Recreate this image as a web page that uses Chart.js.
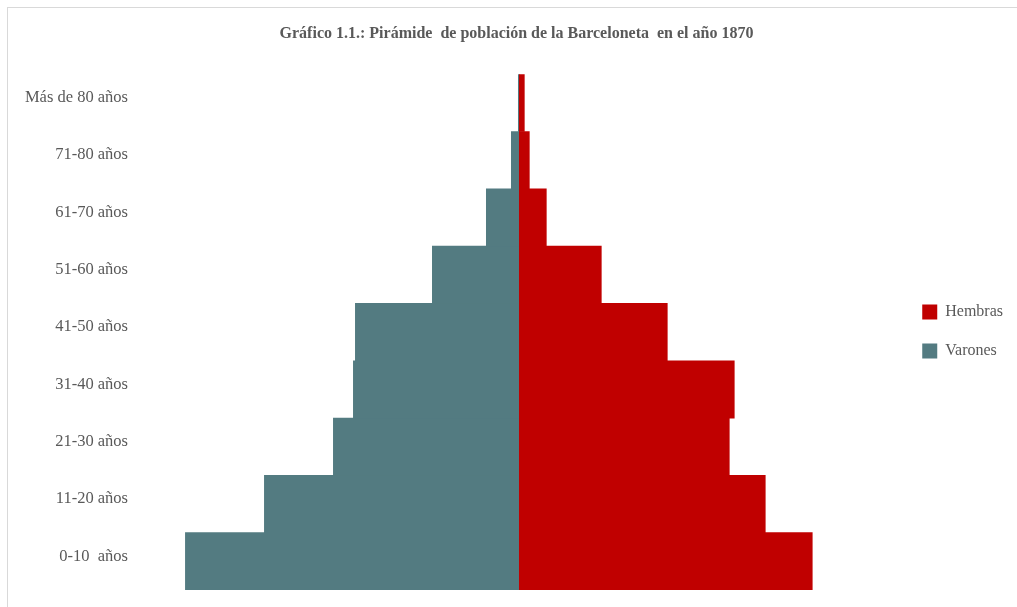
<!DOCTYPE html>
<html>
<head>
<meta charset="utf-8">
<script src="https://cdn.jsdelivr.net/npm/chart.js@4.4.1/dist/chart.umd.min.js"></script>
<style>
  html, body { margin: 0; padding: 0; background: #ffffff; overflow: hidden; width: 1017px; height: 607px; }
  #frame { position: absolute; left: 7px; top: 7px; width: 1018px; height: 600px;
           border-left: 1px solid #d9d9d9; border-top: 1px solid #d9d9d9; box-sizing: border-box; }
  #wrap { position: absolute; left: 0; top: 0; width: 1017px; height: 599px; }
</style>
</head>
<body>
<div id="frame"><div id="wrap"><canvas id="c"></canvas></div></div>
<script>
// Age groups, bottom to top
const categories = ['0-10  años', '11-20 años', '21-30 años', '31-40 años', '41-50 años',
                    '51-60 años', '61-70 años', '71-80 años', 'Más de 80 años'];
// Estimated values
const varones = [1670, 1275, 930, 830, 820, 435, 165, 40, 5];
const hembras = [1465, 1230, 1050, 1075, 740, 410, 135, 50, 25];
const titleText = 'Gráfico 1.1.: Pirámide  de población de la Barceloneta  en el año 1870';

const FONT = '"Liberation Serif", "DejaVu Serif", serif';
const GREY = '#595959';

new Chart(document.getElementById('c'), {
  type: 'bar',
  data: {
    // second empty line lifts each label slightly above the bar centre, as in the original
    labels: categories.map(c => [c, '']),
    datasets: [
      { label: 'Hembras', data: hembras, backgroundColor: '#c00000', borderWidth: 0 },
      { label: 'Varones', data: varones.map(v => -v), backgroundColor: '#537b81', borderWidth: 0 }
    ]
  },
  options: {
    indexAxis: 'y',
    responsive: true,
    maintainAspectRatio: false,
    animation: false,
    datasets: { bar: { barPercentage: 1.0, categoryPercentage: 1.0 } },
    layout: { padding: { top: 0, right: 12, bottom: 0, left: 12 } },
    scales: {
      x: {
        stacked: true,
        min: -1892,
        max: 1900,
        ticks: { display: false, stepSize: 500 },
        border: { display: false },
        grid: {
          drawTicks: false,
          lineWidth: 2,
          color: ctx => (ctx.tick && ctx.tick.value === 0) ? '#c8c8c8' : 'rgba(0,0,0,0)'
        },
        afterFit: s => { s.height = 17; }
      },
      y: {
        stacked: true,
        reverse: true,
        border: { display: false },
        grid: { display: true, drawOnChartArea: false, drawTicks: true, tickLength: 13, color: 'rgba(0,0,0,0)' },
        ticks: { padding: 0, color: GREY, font: { family: FONT, size: 16.5, lineHeight: '10px' } },
        afterFit: s => { s.width = 121; }
      }
    },
    plugins: {
      title: {
        display: true,
        text: titleText,
        color: GREY,
        font: { family: FONT, size: 16, weight: 'bold' },
        padding: { top: 16, bottom: 31 }
      },
      legend: {
        position: 'right',
        title: { display: true, text: ' ', font: { size: 10 }, padding: { top: 18, bottom: 18 } },
        labels: {
          boxWidth: 15, boxHeight: 15, padding: 23,
          color: GREY, font: { family: FONT, size: 16 }
        }
      },
      tooltip: { enabled: false }
    }
  }
});
</script>
</body>
</html>
